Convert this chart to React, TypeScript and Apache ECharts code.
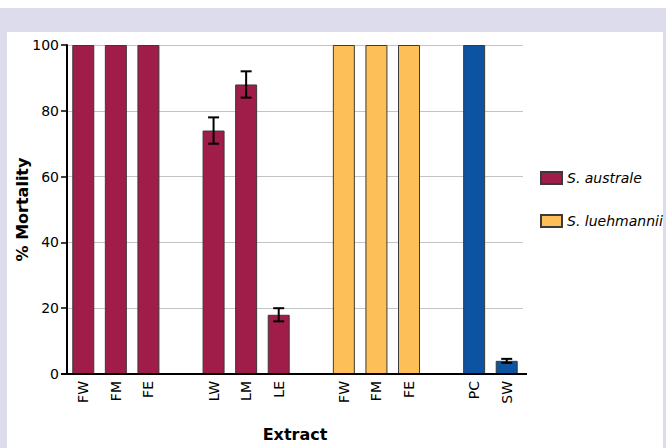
import React, { useEffect, useRef } from "react";
import * as echarts from "echarts";

const categories = ["FW", "FM", "FE", "", "LW", "LM", "LE", "", "FW", "FM", "FE", "", "PC", "SW"];
const australeValues = [100, 100, 100, null, 74, 88, 18, null, null, null, null, null, null, null];
const luehmanniiValues = [null, null, null, null, null, null, null, null, 100, 100, 100, null, null, null];
const controlValues = [null, null, null, null, null, null, null, null, null, null, null, null, 100, 4];
const errorValues = [null, null, null, null, 4, 4, 2, null, null, null, null, null, null, 0.6];
const yTicks = { min: 0, max: 100, interval: 20 };

const FONT = "DejaVu Sans";
const CRIMSON = "#a01c49";
const ORANGE = "#fdbf57";
const BLUE = "#0c53a2";

export default function App() {
  const ref = useRef<HTMLDivElement>(null);
  useEffect(() => {
    document.body.style.margin = "0";
    if (!ref.current) return;
    const chart = echarts.init(ref.current, null, { renderer: "svg" });
    const means = [australeValues, luehmanniiValues, controlValues].reduce(
      (acc, arr) => acc.map((v, i) => (v == null ? arr[i] : v)),
      new Array(categories.length).fill(null) as (number | null)[]
    );
    const errData: number[][] = [];
    errorValues.forEach((e, i) => {
      const m = means[i];
      if (e != null && m != null) errData.push([i, m - e, m + e]);
    });
    const barCommon = {
      type: "bar",
      barWidth: 22,
      barGap: "-100%",
      itemStyle: { borderColor: "#3a3a3a", borderWidth: 1 },
    };
    chart.setOption({
      animation: false,
      backgroundColor: "#ffffff",
      textStyle: { fontFamily: FONT },
      graphic: [
        { type: "rect", shape: { x: 0, y: 8, width: 666, height: 24 }, style: { fill: "#dcdcec" }, silent: true },
        { type: "rect", shape: { x: 0, y: 8, width: 7, height: 440 }, style: { fill: "#dcdcec" }, silent: true },
        { type: "rect", shape: { x: 663, y: 8, width: 3, height: 440 }, style: { fill: "#dcdcec" }, silent: true },
        { type: "line", shape: { x1: 61, y1: 374, x2: 527, y2: 374 }, style: { stroke: "#000", lineWidth: 2 }, z: 10, silent: true },
      ],
      grid: { left: 67, right: 143, top: 45, bottom: 74, containLabel: false },
      legend: {
        data: ["S. australe", "S. luehmannii"],
        orient: "vertical",
        left: 535,
        top: 166,
        itemGap: 29,
        itemWidth: 21,
        itemHeight: 12,
        icon: "rect",
        textStyle: { fontFamily: FONT, fontSize: 14, fontStyle: "italic", color: "#000" },
      },
      xAxis: {
        type: "category",
        data: categories,
        name: "Extract",
        nameLocation: "middle",
        nameGap: 52,
        nameTextStyle: { fontFamily: FONT, fontSize: 16, fontWeight: "bold", color: "#000" },
        axisLine: { lineStyle: { color: "#000", width: 2 } },
        axisTick: {
          alignWithLabel: true,
          length: 6,
          lineStyle: { color: "#000", width: 1.5 },
          interval: (idx: number) => categories[idx] !== "",
        },
        axisLabel: {
          rotate: 90,
          interval: 0,
          margin: 7,
          fontFamily: FONT,
          fontSize: 14,
          color: "#000",
        },
        splitLine: { show: false },
      },
      yAxis: {
        type: "value",
        min: yTicks.min,
        max: yTicks.max,
        interval: yTicks.interval,
        name: "% Mortality",
        nameLocation: "middle",
        nameGap: 37,
        nameMoveOverlap: false,
        nameTextStyle: { fontFamily: FONT, fontSize: 16, fontWeight: "bold", color: "#000" },
        axisLine: { show: true, lineStyle: { color: "#000", width: 2 } },
        axisTick: { show: true, length: 6, lineStyle: { color: "#000", width: 1.5 } },
        axisLabel: { margin: 8, fontFamily: FONT, fontSize: 14, color: "#000" },
        splitLine: { show: true, lineStyle: { color: "#c4c4c4", width: 1 } },
      },
      series: [
        { ...barCommon, name: "S. australe", data: australeValues, itemStyle: { ...barCommon.itemStyle, color: CRIMSON } },
        { ...barCommon, name: "S. luehmannii", data: luehmanniiValues, itemStyle: { ...barCommon.itemStyle, color: ORANGE } },
        { ...barCommon, name: "Control", data: controlValues, itemStyle: { ...barCommon.itemStyle, color: BLUE } },
        {
          type: "custom",
          name: "error",
          z: 5,
          encode: { x: 0, y: [1, 2] },
          data: errData,
          renderItem: (params: any, api: any) => {
            const x = api.value(0);
            const lo = api.coord([x, api.value(1)]);
            const hi = api.coord([x, api.value(2)]);
            const hw = 5.5;
            const st = { stroke: "#000", lineWidth: 2 };
            return {
              type: "group",
              children: [
                { type: "line", shape: { x1: lo[0], y1: lo[1], x2: hi[0], y2: hi[1] }, style: st },
                { type: "line", shape: { x1: hi[0] - hw, y1: hi[1], x2: hi[0] + hw, y2: hi[1] }, style: st },
                { type: "line", shape: { x1: lo[0] - hw, y1: lo[1], x2: lo[0] + hw, y2: lo[1] }, style: st },
              ],
            };
          },
        },
      ],
    });
    return () => chart.dispose();
  }, []);
  return <div ref={ref} style={{ width: 666, height: 448 }} />;
}
